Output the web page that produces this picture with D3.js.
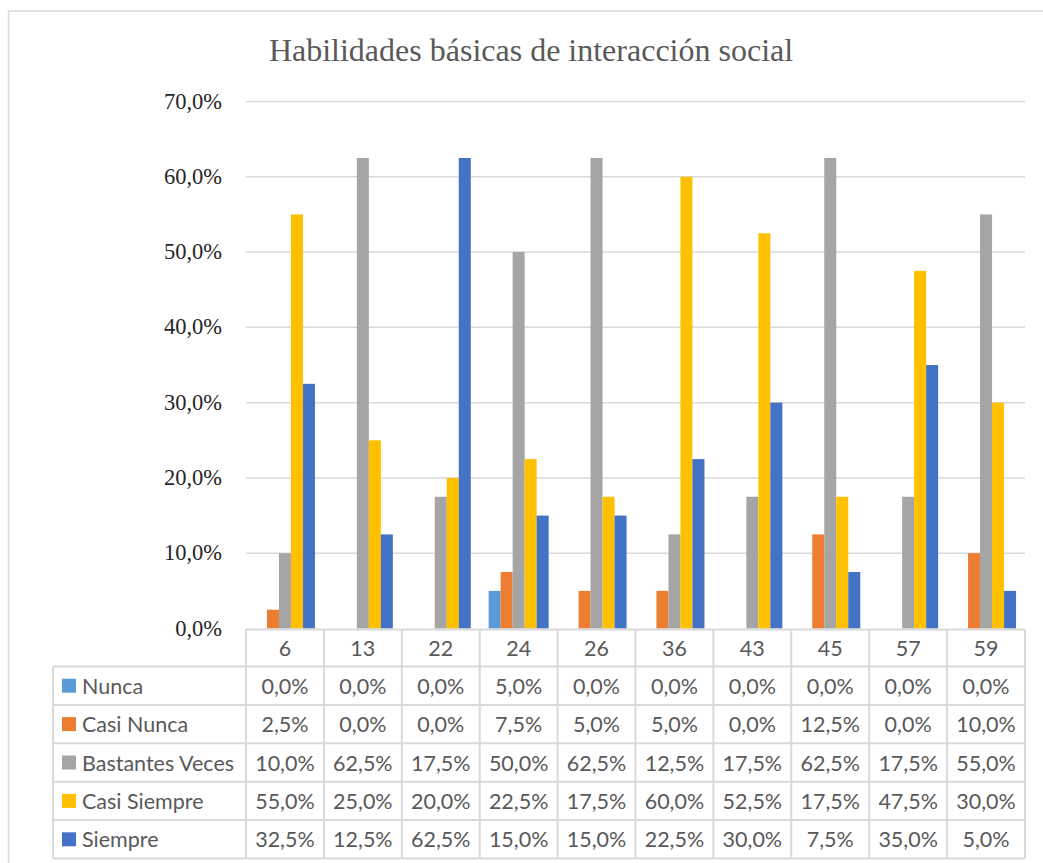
<!DOCTYPE html>
<html>
<head>
<meta charset="utf-8">
<script src="https://cdn.jsdelivr.net/npm/d3@7"></script>
<style>
  body { margin: 0; background: #fff; }
</style>
</head>
<body>
<div id="chart"></div>
<script>
// chart values
const categories = ["6", "13", "22", "24", "26", "36", "43", "45", "57", "59"];
const seriesNames = ["Nunca", "Casi Nunca", "Bastantes Veces", "Casi Siempre", "Siempre"];
const nunca = [0, 0, 0, 5, 0, 0, 0, 0, 0, 0];
const casiNunca = [2.5, 0, 0, 7.5, 5, 5, 0, 12.5, 0, 10];
const bastantesVeces = [10, 62.5, 17.5, 50, 62.5, 12.5, 17.5, 62.5, 17.5, 55];
const casiSiempre = [55, 25, 20, 22.5, 17.5, 60, 52.5, 17.5, 47.5, 30];
const siempre = [32.5, 12.5, 62.5, 15, 15, 22.5, 30, 7.5, 35, 5];
const yTicks = [0, 10, 20, 30, 40, 50, 60, 70];
const colors = ["#5B9BD5", "#ED7D31", "#A5A5A5", "#FFC000", "#4472C4"];

const series = [nunca, casiNunca, bastantesVeces, casiSiempre, siempre];

const width = 1043, height = 863;
const plot = {left: 246, right: 1025, top: 101.5, bottom: 628.5};
const headerH = 37, rowH = 38.4, legendLeft = 53;

const svg = d3.select("#chart").append("svg")
    .attr("width", width)
    .attr("height", height);

// outer chart frame
svg.append("rect")
    .attr("x", 8.5).attr("y", 11)
    .attr("width", 1100).attr("height", 900)
    .attr("fill", "none")
    .attr("stroke", "#d9d9d9")
    .attr("stroke-width", 1.5);

svg.append("text")
    .attr("x", 531).attr("y", 61)
    .attr("text-anchor", "middle")
    .attr("font-family", "'Liberation Serif', 'Times New Roman', serif")
    .attr("font-size", 32)
    .attr("fill", "#595959")
    .text("Habilidades básicas de interacción social");

const y = d3.scaleLinear().domain([0, 70]).range([plot.bottom, plot.top]);
const x0 = d3.scaleBand().domain(categories).range([plot.left, plot.right]);
const gap = x0.bandwidth() - 60;
const x1 = d3.scaleBand().domain(d3.range(series.length))
    .range([gap / 2, x0.bandwidth() - gap / 2]);

// gridlines
svg.append("g").selectAll("line")
    .data(yTicks.filter(d => d > 0))
    .join("line")
    .attr("x1", plot.left).attr("x2", plot.right)
    .attr("y1", d => y(d)).attr("y2", d => y(d))
    .attr("stroke", "#d9d9d9")
    .attr("stroke-width", 1.5);

// y labels
svg.append("g").selectAll("text")
    .data(yTicks)
    .join("text")
    .attr("x", 222)
    .attr("y", d => y(d) + 7)
    .attr("text-anchor", "end")
    .attr("font-family", "'Liberation Serif', 'Times New Roman', serif")
    .attr("font-size", 22.5)
    .attr("fill", "#262626")
    .text(d => d.toFixed(1).replace(".", ",") + "%");

// bars
const groups = svg.append("g").selectAll("g")
    .data(categories)
    .join("g")
    .attr("transform", d => `translate(${x0(d)},0)`);

groups.selectAll("rect")
    .data((c, i) => series.map((s, k) => ({k: k, v: s[i]})))
    .join("rect")
    .attr("x", d => x1(d.k))
    .attr("width", x1.bandwidth())
    .attr("y", d => y(d.v))
    .attr("height", d => y(0) - y(d.v))
    .attr("fill", d => colors[d.k]);

// data table
const tbl = svg.append("g")
    .attr("font-family", "Lato, 'Open Sans', sans-serif")
    .attr("fill", "#595959");
const tTop = plot.bottom + 1;
const lineColor = "#d9d9d9";
const fs = 21.5;

const hLine = (x1v, x2v, yv) => tbl.append("line")
    .attr("x1", x1v).attr("x2", x2v).attr("y1", yv).attr("y2", yv)
    .attr("stroke", lineColor).attr("stroke-width", 2);
const vLine = (xv, y1v, y2v) => tbl.append("line")
    .attr("x1", xv).attr("x2", xv).attr("y1", y1v).attr("y2", y2v)
    .attr("stroke", lineColor).attr("stroke-width", 2);

const tBottom = tTop + headerH + rowH * seriesNames.length;
hLine(plot.left, plot.right, tTop);
for (let r = 0; r <= seriesNames.length; r++) {
    hLine(legendLeft, plot.right, tTop + headerH + r * rowH);
}
vLine(legendLeft, tTop + headerH, tBottom);
categories.forEach(c => vLine(x0(c), tTop, tBottom));
vLine(plot.right, tTop, tBottom);

// header labels
tbl.append("g").selectAll("text")
    .data(categories)
    .join("text")
    .attr("x", d => x0(d) + x0.bandwidth() / 2)
    .attr("y", tTop + headerH / 2 + 8)
    .attr("text-anchor", "middle")
    .attr("font-size", fs)
    .text(d => d);

// rows
seriesNames.forEach((name, k) => {
    const rowY = tTop + headerH + k * rowH;
    tbl.append("rect")
        .attr("x", 62).attr("y", rowY + rowH / 2 - 7)
        .attr("width", 14).attr("height", 14)
        .attr("fill", colors[k]);
    tbl.append("text")
        .attr("x", 82).attr("y", rowY + rowH / 2 + 8)
        .attr("font-size", fs)
        .text(name);
    tbl.append("g").selectAll("text")
        .data(series[k])
        .join("text")
        .attr("x", (d, i) => x0(categories[i]) + x0.bandwidth() / 2)
        .attr("y", rowY + rowH / 2 + 8)
        .attr("text-anchor", "middle")
        .attr("font-size", fs)
        .text(d => d.toFixed(1).replace(".", ",") + "%");
});
</script>
</body>
</html>
